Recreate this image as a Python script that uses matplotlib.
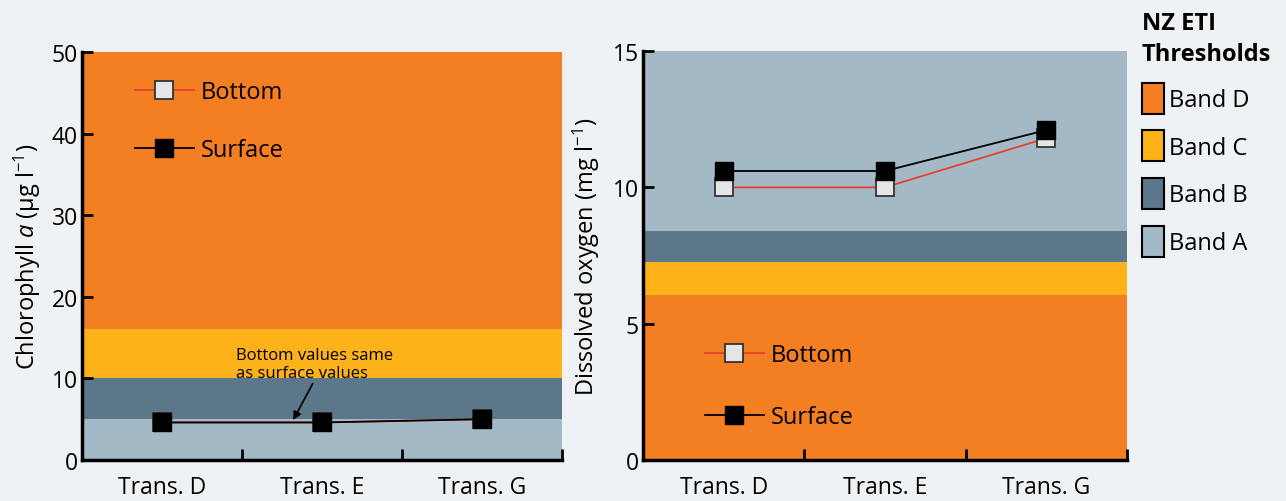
import matplotlib
matplotlib.use("Agg")
import matplotlib.pyplot as plt
from matplotlib.patches import Patch

# ------------------------------------------------------------
# data
# ------------------------------------------------------------
SITES = ["Trans. D", "Trans. E", "Trans. G"]

CHLA_BOTTOM = [4.6, 4.6, 5.0]
CHLA_SURFACE = [4.6, 4.6, 5.0]

DO_BOTTOM = [10.0, 10.0, 11.8]
DO_SURFACE = [10.6, 10.6, 12.1]

BAND_NAMES = ["Band D", "Band C", "Band B", "Band A"]
# band edges (bottom, top) per variable
CHLA_BANDS = {"Band A": (0, 5), "Band B": (5, 10), "Band C": (10, 16), "Band D": (16, 50)}
DO_BANDS = {"Band D": (0, 6.05), "Band C": (6.05, 7.25), "Band B": (7.25, 8.4), "Band A": (8.4, 15)}

BAND_COLORS = {
    "Band D": "#f47e22",
    "Band C": "#fdb21a",
    "Band B": "#5b7789",
    "Band A": "#a3b9c6",
}
BG = "#eef2f5"

FAMILY = ["Open Sans", "DejaVu Sans"]
plt.rcParams["font.family"] = FAMILY
plt.rcParams["mathtext.fontset"] = "custom"
plt.rcParams["mathtext.rm"] = "Open Sans"
plt.rcParams["mathtext.it"] = "Open Sans:italic"

W, H = 1286, 502


def style_axis(ax, ymax, ystep):
    ax.set_xlim(0, 3)
    ax.set_ylim(0, ymax)
    ax.set_xticks([0, 1, 2, 3])
    ax.set_xticklabels([])
    ax.set_xticks([0.5, 1.5, 2.5], minor=True)
    ax.set_xticklabels(SITES, minor=True, fontsize=16.5)
    ax.tick_params(axis="x", which="minor", length=0, pad=11)
    ax.tick_params(axis="x", which="major", direction="in", length=8, width=2)
    ax.set_yticks(range(0, ymax + 1, ystep))
    ax.tick_params(axis="y", direction="in", length=8, width=2, labelsize=16.5, pad=3)
    for side in ["top", "right"]:
        ax.spines[side].set_visible(False)
    for side in ["left", "bottom"]:
        ax.spines[side].set_linewidth(2.5)


def draw_bands(ax, bands):
    for name, (lo, hi) in bands.items():
        ax.axhspan(lo, hi, color=BAND_COLORS[name], lw=0, zorder=0)


def draw_series(ax, bottom, surface):
    x = [0.5, 1.5, 2.5]
    b, = ax.plot(x, bottom, color="#e8412c", lw=1.3, marker="s", ms=13,
                 mfc="#e4e5e6", mec="#333333", mew=1.3, zorder=3)
    s, = ax.plot(x, surface, color="black", lw=1.3, marker="s", ms=13,
                 mfc="black", mec="black", zorder=4)
    return b, s


def series_legend(ax, handles, anchor, spacing):
    ax.legend(handles, ["Bottom", "Surface"], loc="center left", bbox_to_anchor=anchor,
              frameon=False, fontsize=17, labelspacing=spacing, handlelength=2.5,
              handletextpad=0.3, borderpad=0, borderaxespad=0)


fig = plt.figure(figsize=(W / 100, H / 100), dpi=100, facecolor=BG)

# left panel: chlorophyll a
ax1 = fig.add_axes([82 / W, 41 / H, 480 / W, 408 / H])
ax1.set_facecolor(BG)
draw_bands(ax1, CHLA_BANDS)
b1, s1 = draw_series(ax1, CHLA_BOTTOM, CHLA_SURFACE)
style_axis(ax1, 50, 10)
ax1.set_ylabel(r"Chlorophyll $\mathit{a}$ ($\mathrm{\mu}$g l$^{-1}$)", fontsize=17, labelpad=6)
ax1.annotate("Bottom values same\nas surface values", xy=(1.32, 4.9), xytext=(0.96, 9.7),
             fontsize=12, ha="left", va="bottom", linespacing=1.15,
             arrowprops=dict(arrowstyle="-|>", color="black", lw=1.2, shrinkA=0, shrinkB=0,
                             mutation_scale=12, relpos=(0.5, 0)),
             zorder=5)
series_legend(ax1, [b1, s1], (0.11, 0.83), 1.45)

# right panel: dissolved oxygen
ax2 = fig.add_axes([643 / W, 41 / H, 484 / W, 409 / H])
ax2.set_facecolor(BG)
draw_bands(ax2, DO_BANDS)
b2, s2 = draw_series(ax2, DO_BOTTOM, DO_SURFACE)
style_axis(ax2, 15, 5)
ax2.set_ylabel(r"Dissolved oxygen (mg l$^{-1}$)", fontsize=17, labelpad=8)
series_legend(ax2, [b2, s2], (0.128, 0.18), 1.6)

# band legend
band_handles = [Patch(facecolor=BAND_COLORS[n], edgecolor="black", lw=1.5) for n in BAND_NAMES]
leg = fig.legend(band_handles, BAND_NAMES, loc="upper left", bbox_to_anchor=(1142 / W, 1 - 12 / H),
                 frameon=False, fontsize=17, title="NZ ETI\nThresholds",
                 title_fontproperties={"weight": "bold", "size": 17},
                 handlelength=0.95, handleheight=1.65, handletextpad=0.2, labelspacing=0.7,
                 borderpad=0, borderaxespad=0, alignment="left")
leg.get_title().set_linespacing(1.4)

fig.savefig("out.png", dpi=100, facecolor=BG)
